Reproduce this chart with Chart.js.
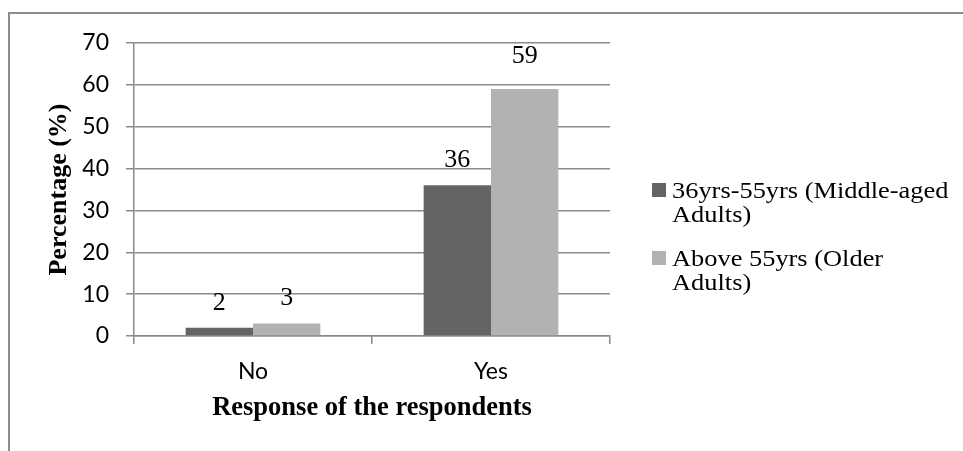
<!DOCTYPE html>
<html>
<head>
<meta charset="utf-8">
<script src="https://cdn.jsdelivr.net/npm/chart.js@4/dist/chart.umd.min.js"></script>
<style>
  html, body { margin: 0; padding: 0; background: #fff; }
  #wrap { width: 963px; height: 451px; }
</style>
</head>
<body>
<div id="wrap"><canvas id="c" width="963" height="451"></canvas></div>
<script>
// Survey responses by age group (percent)
const categories = ['No', 'Yes'];
const middleAged = [2, 36];
const olderAdults = [3, 59];
const seriesNames = ['36yrs-55yrs (Middle-aged Adults)', 'Above 55yrs (Older Adults)'];
const legendLines = [
  ['36yrs-55yrs (Middle-aged', 'Adults)'],
  ['Above 55yrs (Older', 'Adults)']
];
const yMin = 0, yMax = 70, yStep = 10;
const xTitle = 'Response of the respondents';
const yTitle = 'Percentage (%)';

const SERIF = "'Times New Roman', 'Liberation Serif', serif";
const SANS = "Lato, 'Open Sans', sans-serif";
const GRID = '#8a8a8a';
const COLORS = ['#646464', '#b2b2b2'];

// White page with a thin frame along the top and left edges
const framePlugin = {
  id: 'frame',
  beforeDraw(chart) {
    const ctx = chart.ctx;
    ctx.save();
    ctx.fillStyle = '#fff';
    ctx.fillRect(0, 0, chart.width, chart.height);
    ctx.strokeStyle = '#8c8c8c';
    ctx.lineWidth = 2;
    ctx.beginPath();
    ctx.moveTo(9, chart.height);
    ctx.lineTo(9, 13);
    ctx.lineTo(chart.width, 13);
    ctx.stroke();
    ctx.restore();
  }
};

// Value labels above each bar; the tallest label sits a little higher
const valueLabels = {
  id: 'valueLabels',
  afterDatasetsDraw(chart) {
    const ctx = chart.ctx;
    ctx.save();
    ctx.font = '26px ' + SERIF;
    ctx.fillStyle = '#000';
    ctx.textAlign = 'center';
    ctx.textBaseline = 'alphabetic';
    const maxVal = Math.max(...chart.data.datasets.flatMap(d => d.data));
    chart.data.datasets.forEach((ds, i) => {
      chart.getDatasetMeta(i).data.forEach((bar, j) => {
        const gap = ds.data[j] === maxVal ? 26 : 18;
        ctx.fillText(String(ds.data[j]), bar.x, bar.y - gap);
      });
    });
    ctx.restore();
  }
};

// Legend to the right of the plot, with wrapped entries in a slightly wide serif
const sideLegend = {
  id: 'sideLegend',
  afterDraw(chart) {
    const ctx = chart.ctx;
    ctx.save();
    ctx.font = '24px ' + SERIF;
    ctx.textAlign = 'left';
    ctx.textBaseline = 'alphabetic';
    const x0 = 652, box = 14, textX = 672, stretch = 1.1;
    const firstBaselines = [198, 266];
    const lineGap = 24;
    chart.data.datasets.forEach((ds, i) => {
      const b = firstBaselines[i];
      ctx.fillStyle = ds.backgroundColor;
      ctx.fillRect(x0, b - 15, box, box);
      ctx.fillStyle = '#000';
      legendLines[i].forEach((line, k) => {
        ctx.save();
        ctx.translate(textX, b + k * lineGap);
        ctx.scale(stretch, 1);
        ctx.fillText(line, 0, 0);
        ctx.restore();
      });
    });
    ctx.restore();
  }
};

new Chart(document.getElementById('c'), {
  type: 'bar',
  data: {
    labels: categories,
    datasets: [
      { label: seriesNames[0], data: middleAged, backgroundColor: COLORS[0], borderWidth: 0 },
      { label: seriesNames[1], data: olderAdults, backgroundColor: COLORS[1], borderWidth: 0 }
    ]
  },
  options: {
    responsive: false,
    animation: false,
    events: [],
    categoryPercentage: 0.566,
    barPercentage: 1.0,
    layout: { padding: { top: 43, right: 353, bottom: 0, left: 0 } },
    plugins: {
      legend: { display: false },
      tooltip: { enabled: false }
    },
    scales: {
      x: {
        grid: { display: true, drawOnChartArea: false, drawTicks: true, tickLength: 8, color: GRID, lineWidth: 1.5, offset: true },
        border: { display: true, color: GRID, width: 1.5 },
        ticks: { font: { family: SANS, size: 23 }, color: '#000', padding: 14 },
        title: {
          display: true, text: xTitle, color: '#000',
          font: { family: SERIF, size: 26.5, weight: 'bold', lineHeight: 1 },
          padding: { top: 0, bottom: 30 }
        },
        afterFit(s) { s.height = 115; }
      },
      y: {
        min: yMin, max: yMax,
        grid: { color: GRID, lineWidth: 1.5, tickLength: 8, drawTicks: true },
        border: { display: true, color: GRID, width: 1.5 },
        ticks: { stepSize: yStep, font: { family: SANS, size: 23 }, color: '#000', padding: 17 },
        title: {
          display: true, text: yTitle, color: '#000',
          font: { family: SERIF, size: 26, weight: 'bold', lineHeight: 1 },
          padding: { top: 46, bottom: 0 }
        },
        afterFit(s) { s.width = 134; }
      }
    }
  },
  plugins: [framePlugin, valueLabels, sideLegend]
});
</script>
</body>
</html>
